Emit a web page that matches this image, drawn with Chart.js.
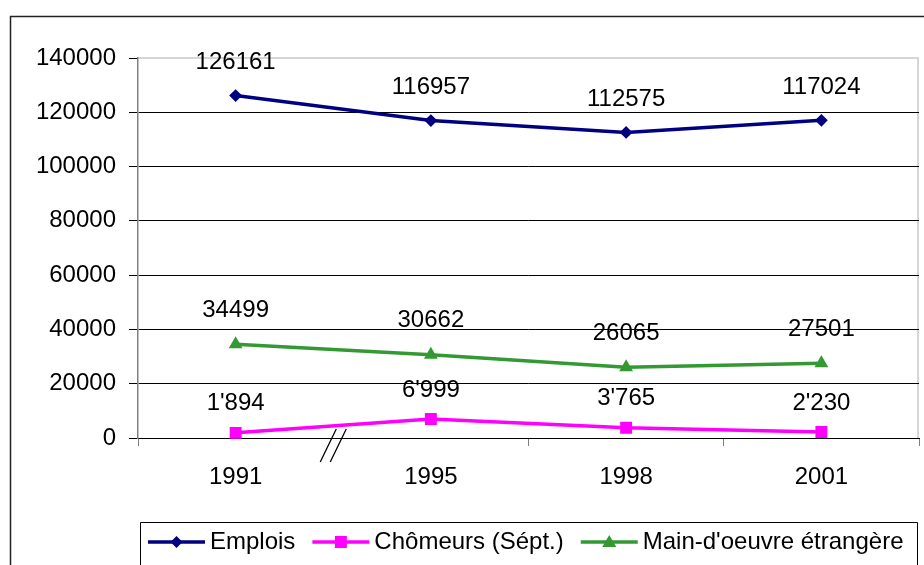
<!DOCTYPE html>
<html>
<head>
<meta charset="utf-8">
<script src="https://cdn.jsdelivr.net/npm/chart.js@4.4.1/dist/chart.umd.min.js"></script>
<style>
  html, body { margin: 0; padding: 0; background: #fff; }
  #wrap { width: 924px; height: 565px; }
</style>
</head>
<body>
<div id="wrap"><canvas id="lineChart" width="924" height="565"></canvas></div>
<script>
// values
const years = ["1991", "1995", "1998", "2001"];
const emplois = [126161, 116957, 112575, 117024];
const chomeurs = [1894, 6999, 3765, 2230];
const mainOeuvre = [34499, 30662, 26065, 27501];
const seriesNames = ["Emplois", "Chômeurs (Sépt.)", "Main-d'oeuvre étrangère"];
const yMin = 0;
const yMax = 140000;
const yStep = 20000;

const FONT = "'Liberation Sans', Arial, sans-serif";
Chart.defaults.font.family = FONT;
Chart.defaults.font.size = 24;
Chart.defaults.color = "#000";

const plain = (v) => String(v);
const swiss = (v) => String(v).replace(/\B(?=(\d{3})+(?!\d))/g, "'");
const labelFormat = [plain, swiss, plain];
const labelLift = [33, 29, 34];

// frame + plot area border
const frame = {
  id: "frame",
  beforeDraw(chart) {
    const { ctx, chartArea: a } = chart;
    ctx.save();
    ctx.fillStyle = "#fff";
    ctx.fillRect(0, 0, chart.width, chart.height);
    ctx.strokeStyle = "#222";
    ctx.lineWidth = 1.5;
    ctx.beginPath();
    ctx.moveTo(10.5, chart.height + 2);
    ctx.lineTo(10.5, 16.5);
    ctx.lineTo(chart.width + 2, 16.5);
    ctx.stroke();
    ctx.strokeStyle = "#d6d6d6";
    ctx.lineWidth = 2;
    ctx.beginPath();
    ctx.moveTo(a.left, a.top);
    ctx.lineTo(a.right - 1, a.top);
    ctx.lineTo(a.right - 1, a.bottom);
    ctx.stroke();
    ctx.restore();
  },
};

// value labels above each point
const pointLabels = {
  id: "pointLabels",
  afterDatasetsDraw(chart) {
    const ctx = chart.ctx;
    ctx.save();
    ctx.font = "24px " + FONT;
    ctx.fillStyle = "#000";
    ctx.textAlign = "center";
    ctx.textBaseline = "middle";
    chart.data.datasets.forEach((ds, i) => {
      chart.getDatasetMeta(i).data.forEach((pt, j) => {
        ctx.fillText(labelFormat[i](ds.data[j]), pt.x, pt.y - labelLift[i]);
      });
    });
    ctx.restore();
  },
};

// axis break "//" between first two categories + legend box
const extras = {
  id: "extras",
  afterDraw(chart) {
    const { ctx, chartArea: a } = chart;
    const xs = chart.scales.x;
    const bx = xs.getPixelForValue(0.5);
    ctx.save();
    ctx.strokeStyle = "#000";
    ctx.lineWidth = 1.3;
    ctx.beginPath();
    ctx.moveTo(bx - 13, a.bottom + 24);
    ctx.lineTo(bx + 3, a.bottom - 9);
    ctx.moveTo(bx - 3, a.bottom + 24);
    ctx.lineTo(bx + 13, a.bottom - 9);
    ctx.stroke();

    // legend
    const top = 522.5;
    const midY = 542;
    ctx.strokeStyle = "#000";
    ctx.lineWidth = 1;
    ctx.beginPath();
    ctx.moveTo(140.5, chart.height + 2);
    ctx.lineTo(140.5, top);
    ctx.lineTo(917.5, top);
    ctx.lineTo(917.5, chart.height + 2);
    ctx.stroke();

    ctx.font = "24px " + FONT;
    ctx.textBaseline = "middle";
    ctx.textAlign = "left";
    let x = 148;
    chart.data.datasets.forEach((ds) => {
      ctx.strokeStyle = ds.borderColor;
      ctx.lineWidth = ds.borderWidth;
      ctx.beginPath();
      ctx.moveTo(x, midY);
      ctx.lineTo(x + 57, midY);
      ctx.stroke();
      const cx = x + 28.5;
      const r = ds.pointRadius;
      ctx.fillStyle = ds.borderColor;
      ctx.beginPath();
      if (ds.pointStyle === "rectRot") {
        ctx.moveTo(cx, midY - r - 1);
        ctx.lineTo(cx + r + 1, midY);
        ctx.lineTo(cx, midY + r + 1);
        ctx.lineTo(cx - r - 1, midY);
      } else if (ds.pointStyle === "rect") {
        ctx.rect(cx - 6, midY - 6, 12, 12);
      } else {
        ctx.moveTo(cx, midY - 7);
        ctx.lineTo(cx + 7, midY + 5);
        ctx.lineTo(cx - 7, midY + 5);
      }
      ctx.closePath();
      ctx.fill();
      ctx.fillStyle = "#000";
      ctx.fillText(ds.label, x + 62, midY);
      x += 62 + ctx.measureText(ds.label).width + 17;
    });
    ctx.restore();
  },
};

function line(label, data, color, style, radius) {
  return {
    label: label,
    data: data,
    borderColor: color,
    backgroundColor: color,
    borderWidth: 3.5,
    pointStyle: style,
    pointRadius: radius,
    pointBorderWidth: 2,
    pointBackgroundColor: color,
    pointBorderColor: color,
    tension: 0,
    fill: false,
    clip: false,
  };
}

new Chart(document.getElementById("lineChart"), {
  type: "line",
  data: {
    labels: years,
    datasets: [
      line(seriesNames[0], emplois, "#000080", "rectRot", 5),
      line(seriesNames[1], chomeurs, "#ff00ff", "rect", 7),
      line(seriesNames[2], mainOeuvre, "#339933", "triangle", 6),
    ],
  },
  options: {
    responsive: false,
    animation: false,
    devicePixelRatio: 1,
    layout: { autoPadding: false, padding: { top: 58, right: 5, left: 0, bottom: 0 } },
    plugins: {
      legend: { display: false },
      tooltip: { enabled: false },
    },
    scales: {
      x: {
        offset: true,
        grid: {
          offset: true,
          drawOnChartArea: false,
          tickLength: 8,
          color: "#808080",
          tickColor: (c) => (c.index === 1 ? "rgba(0,0,0,0)" : "#808080"),
        },
        border: { color: "#000", width: 1 },
        ticks: { padding: 17, autoSkip: false, maxRotation: 0, color: "#000" },
        afterFit(scale) {
          scale.height = 127;
          scale.paddingLeft = 0;
          scale.paddingRight = 0;
        },
      },
      y: {
        min: yMin,
        max: yMax,
        ticks: { stepSize: yStep, padding: 13, color: "#000", callback: (v) => String(v) },
        grid: {
          tickLength: 9,
          color: (c) => (c.tick && c.tick.value === yMax ? "#d6d6d6" : "#000"),
          tickColor: "#000",
        },
        border: { color: "#808080", width: 1.5 },
        afterFit(scale) {
          scale.width = 138;
          scale.paddingTop = 0;
          scale.paddingBottom = 0;
        },
      },
    },
  },
  plugins: [frame, pointLabels, extras],
});
</script>
</body>
</html>
